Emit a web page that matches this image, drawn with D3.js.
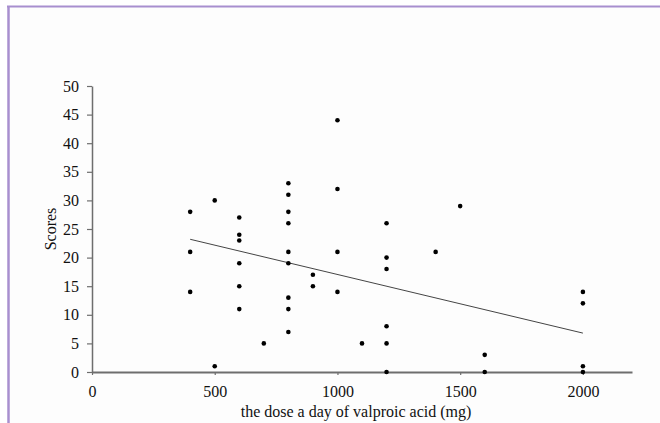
<!DOCTYPE html>
<meta charset="utf-8">
<script src="https://d3js.org/d3.v7.min.js"></script>
<style>
  body { margin: 0; background: #ffffff; }
</style>
<body>
<div id="chart"></div>
<script>

// dose (mg) and score of every patient
var doses  = [400, 400, 400, 500, 500,
              600, 600, 600, 600, 600, 600, 700,
              800, 800, 800, 800, 800, 800, 800, 800, 800,
              900, 900, 1000, 1000, 1000, 1000, 1100,
              1200, 1200, 1200, 1200, 1200, 1200,
              1400, 1500, 1600, 1600, 2000, 2000, 2000, 2000];
var scores = [28, 21, 14, 30, 1,
              27, 24, 23, 19, 15, 11, 5,
              33, 31, 28, 26, 21, 19, 13, 11, 7,
              17, 15, 44, 32, 21, 14, 5,
              26, 20, 18, 8, 5, 0,
              21, 29, 3, 0, 14, 12, 1, 0];

// fitted line end points
var trendX = [400, 2000];
var trendY = [23.2, 6.8];

var xTicks = [0, 500, 1000, 1500, 2000];
var yTicks = [0, 5, 10, 15, 20, 25, 30, 35, 40, 45, 50];

var W = 660, H = 423;
var margin = {top: 86, right: 28, bottom: 51, left: 92};
var width = 632 - margin.left,
    height = 372 - margin.top;
var serif = "'Liberation Serif', 'Times New Roman', serif";

var root = d3.select("#chart")
  .append("svg")
  .attr("width", W)
  .attr("height", H);

// page frame
root.append("rect")
  .attr("x", 8).attr("y", 7)
  .attr("width", W - 8).attr("height", H - 7)
  .style("fill", "#fdfdfd");
root.append("line")
  .attr("x1", 7).attr("x2", W).attr("y1", 6.5).attr("y2", 6.5)
  .style("stroke", "#a88fcf").style("stroke-width", 2);
root.append("line")
  .attr("x1", 8.5).attr("x2", 8.5).attr("y1", 6).attr("y2", H)
  .style("stroke", "#a88fcf").style("stroke-width", 2.5);

var svg = root.append("g")
  .attr("transform", "translate(" + margin.left + "," + margin.top + ")");

var x = d3.scaleLinear().domain([0, 2200]).range([0, width]);
var y = d3.scaleLinear().domain([0, 50]).range([height, 0]);

// X axis
var gx = svg.append("g")
  .attr("transform", "translate(0," + height + ")")
  .call(d3.axisBottom(x).tickValues(xTicks).tickFormat(d3.format("d"))
    .tickSize(3).tickPadding(11).tickSizeOuter(0));
gx.select(".domain").style("stroke", "#6e6e6e").style("stroke-width", 2);
gx.selectAll(".tick line").style("stroke", "#6e6e6e").style("stroke-width", 1.2);
gx.selectAll("text").style("font-family", serif).style("font-size", "16px").style("fill", "#111");

// Y axis
var gy = svg.append("g")
  .call(d3.axisLeft(y).tickValues(yTicks).tickFormat(d3.format("d"))
    .tickSize(5).tickPadding(8).tickSizeOuter(0));
gy.select(".domain").style("stroke", "#6e6e6e").style("stroke-width", 1.5);
gy.selectAll(".tick line").style("stroke", "#6e6e6e").style("stroke-width", 1.2);
gy.selectAll("text").style("font-family", serif).style("font-size", "16px").style("fill", "#111");

// axis titles
svg.append("text")
  .attr("x", width / 2 - 6)
  .attr("y", height + 45)
  .attr("text-anchor", "middle")
  .style("font-family", serif)
  .style("font-size", "16px")
  .style("fill", "#111")
  .text("the dose a day of valproic acid (mg)");

svg.append("text")
  .attr("transform", "translate(" + (-36) + "," + (height / 2) + ") rotate(-90)")
  .attr("text-anchor", "middle")
  .style("font-family", serif)
  .style("font-size", "16px")
  .style("fill", "#111")
  .text("Scores");

// trend line
svg.append("line")
  .attr("x1", x(trendX[0])).attr("y1", y(trendY[0]))
  .attr("x2", x(trendX[1])).attr("y2", y(trendY[1]))
  .style("stroke", "#444").style("stroke-width", 1);

// points
svg.selectAll("circle")
  .data(doses)
  .enter()
  .append("circle")
  .attr("cx", function(d) { return x(d); })
  .attr("cy", function(d, i) { return y(scores[i]); })
  .attr("r", 2.3)
  .style("fill", "#000");

</script>
</body>
